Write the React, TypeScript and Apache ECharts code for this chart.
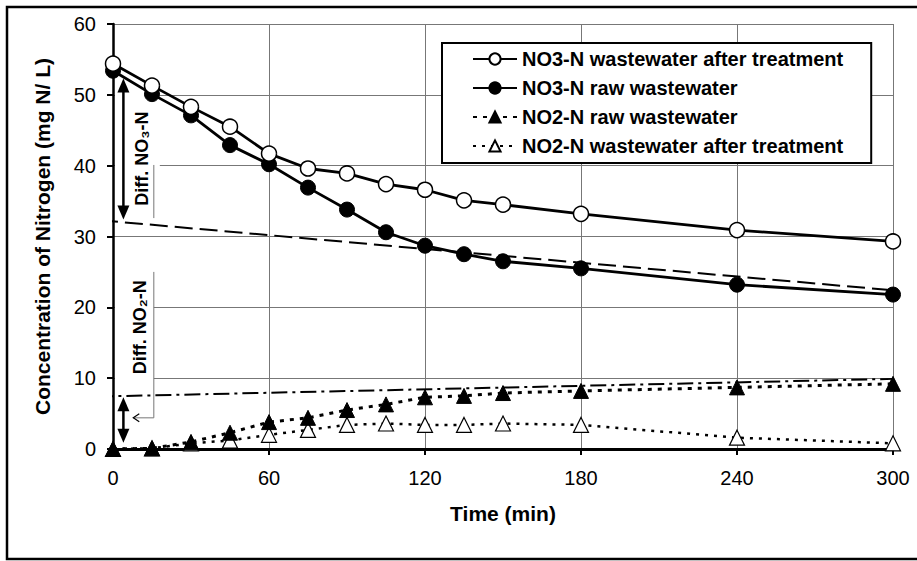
import React, { useEffect, useRef } from "react";
import * as echarts from "echarts";

const times = [0, 15, 30, 45, 60, 75, 90, 105, 120, 135, 150, 180, 240, 300];
const no3After = [54.4, 51.3, 48.3, 45.5, 41.7, 39.6, 38.9, 37.4, 36.6, 35.1, 34.5, 33.2, 30.9, 29.3];
const no3Raw = [53.4, 50.1, 47.1, 42.9, 40.2, 36.9, 33.8, 30.6, 28.7, 27.5, 26.5, 25.5, 23.2, 21.8];
const no2Raw = [0, 0.1, 1.0, 2.3, 3.8, 4.4, 5.5, 6.3, 7.3, 7.5, 7.9, 8.2, 8.7, 9.2];
const no2After = [0, 0.1, 0.8, 1.2, 2.0, 2.7, 3.4, 3.6, 3.4, 3.4, 3.6, 3.4, 1.6, 0.8];

const no3TrendT = [-5, 300];
const no3TrendV = [32.3, 22.4];
const no2TrendT = [-6, 300];
const no2TrendV = [7.4, 9.9];

const xTicks = [0, 60, 120, 180, 240, 300];
const yTicks = [0, 10, 20, 30, 40, 50, 60];

const seriesNames = [
  "NO3-N wastewater after treatment",
  "NO3-N raw wastewater",
  "NO2-N raw wastewater",
  "NO2-N wastewater after treatment",
];

const FONT = "'Liberation Sans', Arial, sans-serif";

const zip = (a: number[], b: number[]) => a.map((v, i) => [v, b[i]]);

export default function App() {
  const ref = useRef<HTMLDivElement>(null);
  useEffect(() => {
    if (!ref.current) return;
    const chart = echarts.init(ref.current, null, { renderer: "svg" });
    chart.setOption({
      animation: false,
      backgroundColor: "#ffffff",
      grid: { left: 113, right: 24, top: 24, bottom: 112, containLabel: false },
      xAxis: {
        type: "value",
        min: xTicks[0],
        max: xTicks[xTicks.length - 1],
        interval: 60,
        name: "Time (min)",
        nameLocation: "middle",
        nameGap: 54,
        nameTextStyle: { fontFamily: FONT, fontWeight: "bold", fontSize: 21, color: "#000" },
        axisLine: { lineStyle: { color: "#000", width: 3 } },
        axisTick: { show: true, inside: false, length: 6, lineStyle: { color: "#000", width: 2 } },
        axisLabel: { fontFamily: FONT, fontSize: 20, color: "#000", margin: 19 },
        splitLine: { show: true, lineStyle: { color: "#777", width: 1 } },
      },
      yAxis: {
        type: "value",
        min: yTicks[0],
        max: yTicks[yTicks.length - 1],
        interval: 10,
        name: "Concentration of Nitrogen (mg N/ L)",
        nameLocation: "middle",
        nameGap: 60,
        nameTextStyle: { fontFamily: FONT, fontWeight: "bold", fontSize: 21, color: "#000" },
        axisLine: { show: true, lineStyle: { color: "#000", width: 2.5 } },
        axisTick: { show: true, inside: false, length: 6, lineStyle: { color: "#000", width: 2 } },
        axisLabel: { fontFamily: FONT, fontSize: 20, color: "#000", margin: 17 },
        splitLine: { show: true, lineStyle: { color: "#777", width: 1 } },
      },
      legend: {
        data: seriesNames,
        orient: "vertical",
        left: 442,
        top: 43,
        padding: [6, 28, 7, 30],
        itemWidth: 44,
        itemHeight: 14,
        itemGap: 9,
        backgroundColor: "#fff",
        borderColor: "#000",
        borderWidth: 2,
        borderRadius: 0,
        textStyle: { fontFamily: FONT, fontWeight: "bold", fontSize: 20, color: "#000" },
      },
      series: [
        {
          name: "NO3 trend",
          type: "line",
          data: zip(no3TrendT, no3TrendV),
          symbol: "none",
          clip: false,
          lineStyle: { color: "#000", width: 2, type: [18, 7] },
          z: 1,
        },
        {
          name: "NO2 trend",
          type: "line",
          data: zip(no2TrendT, no2TrendV),
          symbol: "none",
          clip: false,
          lineStyle: { color: "#000", width: 2, type: [16, 5, 3, 5] },
          z: 1,
        },
        {
          name: seriesNames[3],
          type: "line",
          data: zip(times, no2After),
          symbol: "triangle",
          symbolSize: 15,
          clip: false,
          itemStyle: { color: "#fff", borderColor: "#000", borderWidth: 1.2 },
          lineStyle: { color: "#000", width: 2.5, type: [3, 6] },
          z: 3,
        },
        {
          name: seriesNames[2],
          type: "line",
          data: zip(times, no2Raw),
          symbol: "triangle",
          symbolSize: 15,
          clip: false,
          itemStyle: { color: "#000", borderColor: "#000", borderWidth: 1 },
          lineStyle: { color: "#000", width: 3, type: [4, 6] },
          z: 3,
        },
        {
          name: seriesNames[1],
          type: "line",
          data: zip(times, no3Raw),
          symbol: "circle",
          symbolSize: 15,
          clip: false,
          itemStyle: { color: "#000", borderColor: "#000", borderWidth: 1 },
          lineStyle: { color: "#000", width: 2.8 },
          z: 4,
        },
        {
          name: seriesNames[0],
          type: "line",
          data: zip(times, no3After),
          symbol: "circle",
          symbolSize: 15,
          clip: false,
          itemStyle: { color: "#fff", borderColor: "#000", borderWidth: 1.5 },
          lineStyle: { color: "#000", width: 2.8 },
          z: 4,
        },
      ],
    });

    const px = (t: number, v: number) => chart.convertToPixel({ gridIndex: 0 }, [t, v]) as number[];
    const a1 = px(4, 52.3);
    const a2 = px(4, 32.4);
    const t3 = px(11.2, 41.0);
    const l3a = px(15.7, 40.1);
    const l3b = px(15.7, 32.6);
    const b1 = px(4, 7.3);
    const b2 = px(4, 0.9);
    const t2 = px(10.3, 17.2);
    const l2a = px(15.7, 25);
    const l2b = px(15.7, 4.4);
    const l2c = px(7.8, 4.4);
    const axX = px(0, 0)[0];

    const arrowHead = (x: number, y: number, dir: number) => ({
      type: "polygon",
      z: 20,
      shape: { points: [[x, y], [x - 6, y - dir * 14], [x + 6, y - dir * 14]] },
      style: { fill: "#000" },
    });

    const labelStyle = (text: string) => ({
      text,
      fontFamily: FONT,
      fontWeight: "bold",
      fontSize: 18,
      fill: "#000",
      align: "center",
      verticalAlign: "middle",
    });

    chart.setOption({
      graphic: [
        {
          type: "rect",
          z: 1,
          shape: { x: 7, y: 7, width: 930, height: 552 },
          style: { fill: "none", stroke: "#000", lineWidth: 2.5 },
        },
        {
          type: "rect",
          z: 1,
          shape: { x: axX + 2, y: px(0, 50.6)[1], width: l3a[0] - axX + 4, height: px(0, 37.5)[1] - px(0, 50.6)[1] },
          style: { fill: "#fff" },
        },
        {
          type: "rect",
          z: 1,
          shape: { x: axX + 2, y: l2a[1], width: l2a[0] - axX - 2, height: px(0, 9.1)[1] - l2a[1] },
          style: { fill: "#fff" },
        },
        {
          type: "line",
          z: 20,
          shape: { x1: a1[0], y1: a1[1] + 12, x2: a2[0], y2: a2[1] - 12 },
          style: { stroke: "#000", lineWidth: 2.5 },
        },
        arrowHead(a1[0], a1[1], -1),
        arrowHead(a2[0], a2[1], 1),
        {
          type: "line",
          z: 20,
          shape: { x1: b1[0], y1: b1[1] + 12, x2: b2[0], y2: b2[1] - 12 },
          style: { stroke: "#000", lineWidth: 2.5 },
        },
        arrowHead(b1[0], b1[1], -1),
        arrowHead(b2[0], b2[1], 1),
        {
          type: "line",
          z: 20,
          shape: { x1: l3a[0], y1: l3a[1], x2: l3b[0], y2: l3b[1] },
          style: { stroke: "#777", lineWidth: 1 },
        },
        {
          type: "polyline",
          z: 20,
          shape: { points: [l2a, l2b, l2c] },
          style: { stroke: "#777", lineWidth: 1, fill: "none" },
        },
        {
          type: "polyline",
          z: 20,
          shape: { points: [[l2c[0] + 6, l2c[1] - 4], l2c, [l2c[0] + 6, l2c[1] + 4]] },
          style: { stroke: "#000", lineWidth: 1.2, fill: "none" },
        },
        {
          type: "text",
          z: 20,
          x: t3[0],
          y: t3[1],
          rotation: Math.PI / 2,
          style: labelStyle("Diff. NO\u2083-N"),
        },
        {
          type: "text",
          z: 20,
          x: t2[0],
          y: t2[1],
          rotation: Math.PI / 2,
          style: labelStyle("Diff. NO\u2082-N"),
        },
      ],
    });

    return () => chart.dispose();
  }, []);
  return (
    <div
      ref={ref}
      style={{ position: "fixed", left: 0, top: 0, width: 917, height: 561, background: "#fff" }}
    />
  );
}
